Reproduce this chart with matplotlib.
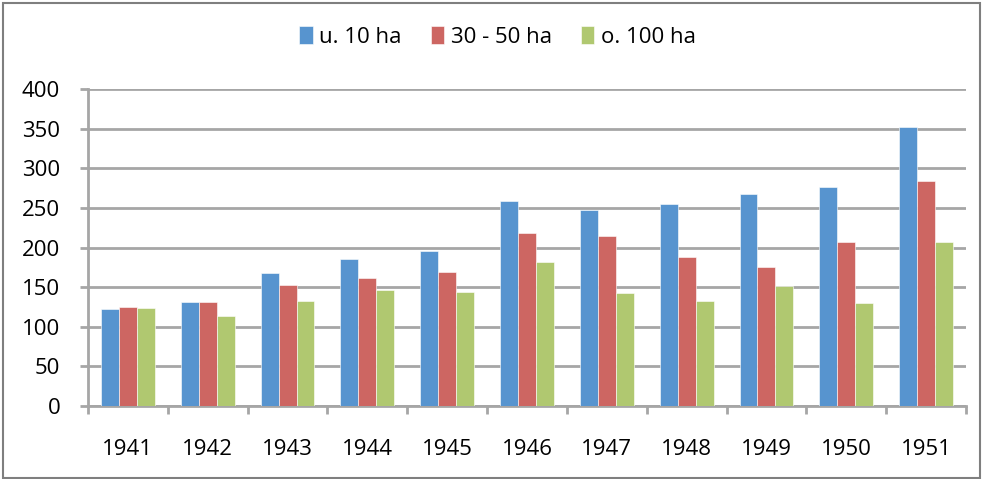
import numpy as np
import matplotlib.pyplot as plt
from matplotlib.patches import Rectangle

# Jahre und Werte je Betriebsgroesse
years = ['1941', '1942', '1943', '1944', '1945', '1946', '1947', '1948', '1949', '1950', '1951']
small = [123, 131, 168, 185, 195, 259, 247, 255, 267, 276, 352]
middle = [125, 131, 153, 162, 169, 218, 214, 188, 176, 207, 284]
large = [124, 114, 133, 147, 144, 182, 143, 133, 152, 130, 207]
labels = ['u. 10 ha', '30 - 50 ha', 'o. 100 ha']

colors = ['#5794CF', '#CD6662', '#B0C870']
grid_color = '#A6A6A6'

plt.rcParams['font.family'] = ['Open Sans', 'DejaVu Sans']

fig = plt.figure(figsize=(9.85, 4.79), dpi=100)
ax = fig.add_axes([88/985, 1-406/479, 878/985, 317/479])

x = np.arange(len(years))
w = 0.225
for i, vals in enumerate([small, middle, large]):
    ax.bar(x + (i-1)*w, vals, width=w, color=colors[i], label=labels[i],
           edgecolor='white', linewidth=0.4, zorder=3)

ax.set_xlim(-0.5, len(years)-0.5)
ax.set_ylim(0, 400)
ax.set_yticks(np.arange(0, 401, 50))
ax.grid(axis='y', color=grid_color, linewidth=2, zorder=0)

ax.set_xticks(x)
ax.set_xticklabels(years)
ax.set_xticks(np.arange(-0.5, len(years), 1), minor=True)
ax.tick_params(axis='x', which='major', length=0, pad=24, labelsize=16)
ax.tick_params(axis='x', which='minor', length=6, width=2, color=grid_color)
ax.tick_params(axis='y', length=6, width=2, color=grid_color, labelsize=16, pad=14)

for s in ['top', 'right']:
    ax.spines[s].set_visible(False)
for s in ['left', 'bottom']:
    ax.spines[s].set_color(grid_color)
    ax.spines[s].set_linewidth(2)

fig.legend(loc='center', bbox_to_anchor=(0.505, 1-37/479), ncol=3, frameon=False,
           fontsize=16, handlelength=0.6, handleheight=0.9, handletextpad=0.3,
           columnspacing=1.3)

# Rahmen um das Diagramm
fig.patches.append(Rectangle((0.003, 0.003), 0.992, 0.99, transform=fig.transFigure,
                             fill=False, edgecolor='#7F7F7F', linewidth=1.5))

fig.savefig('out.png', dpi=100)
